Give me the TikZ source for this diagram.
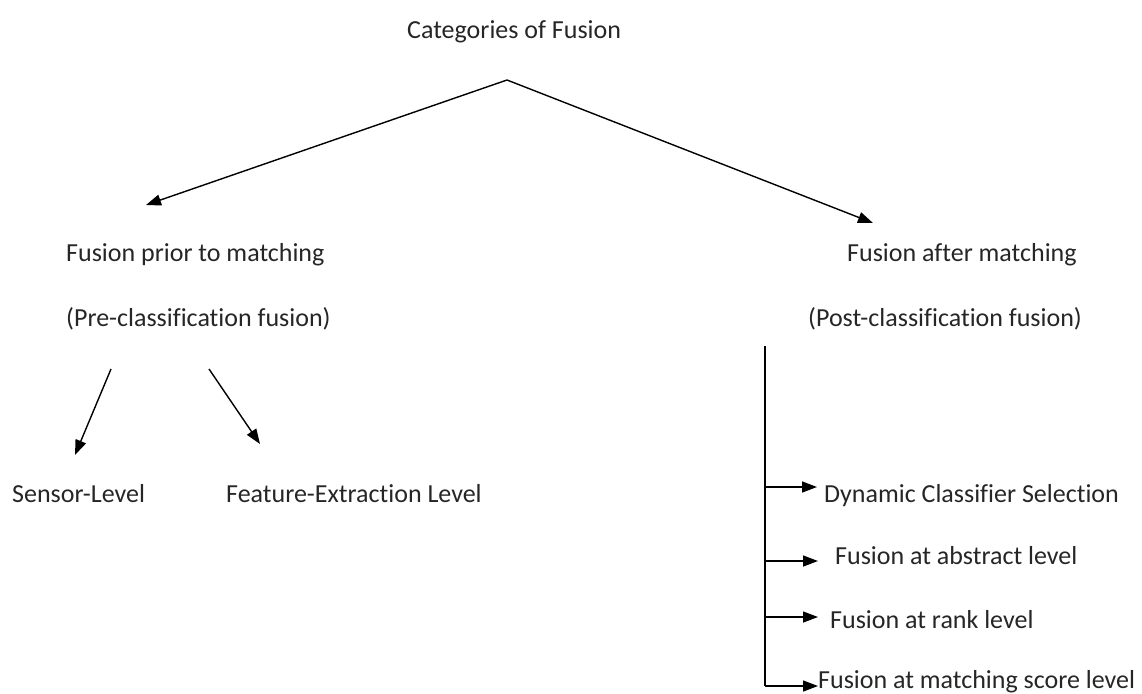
\documentclass[tikz,border=0pt]{standalone}
\usepackage{fontspec}
\setmainfont{Carlito}[Ligatures=CommonOff]
\usetikzlibrary{arrows.meta}
\tikzset{
  lbl/.style={anchor=base west, inner sep=0pt, font=\fontsize{26}{31}\selectfont, text=black!85},
  conn/.style={draw=black, line width=1.4pt, -{Triangle[length=15pt,width=11pt]}},
  plain/.style={draw=black, line width=1.4pt},
}
\begin{document}
\begin{tikzpicture}[x=1pt,y=-1pt]
\useasboundingbox (0,0) rectangle (1142,693);
% texts
\node[lbl] (cat) at (407,38) {Categories of Fusion};
\node[lbl] (prior) at (66,261) {Fusion prior to matching};
\node[lbl] (pre) at (66,326) {(Pre-classification fusion)};
\node[lbl] (after) at (847,261) {Fusion after matching};
\node[lbl] (post) at (808,326) {(Post-classification fusion)};
\node[lbl] (sensor) at (12,502) {Sensor-Level};
\node[lbl] (feat) at (226,502) {Feature-Extraction Level};
\node[lbl] (dyn) at (824,502) {Dynamic Classifier Selection};
\node[lbl] (abs) at (835,564) {Fusion at abstract level};
\node[lbl] (rank) at (830,628) {Fusion at rank level};
\node[lbl] (score) at (818,688) {Fusion at matching score level};
% coordinates
\coordinate (apex) at (507,80);
\coordinate (ltip) at (146,205);
\coordinate (rtip) at (873,223);
\coordinate (s1) at (111,369);
\coordinate (s1t) at (75,455);
\coordinate (s2) at (209,369);
\coordinate (s2t) at (260,444);
\coordinate (vtop) at (765,346);
\coordinate (vbot) at (765,686);
\coordinate (b1) at (765,487);
\coordinate (b2) at (765,561);
\coordinate (b3) at (765,617);
\coordinate (t1) at (817,487);
\coordinate (t2) at (818,561);
\coordinate (t3) at (818,617);
\coordinate (t4) at (818,686);
% connectors
\draw[conn] (apex) -- (ltip);
\draw[conn] (apex) -- (rtip);
\draw[conn] (s1) -- (s1t);
\draw[conn] (s2) -- (s2t);
\draw[plain] (vtop) -- (vbot);
\draw[conn] (b1) -- (t1);
\draw[conn] (b2) -- (t2);
\draw[conn] (b3) -- (t3);
\draw[conn] (vbot) -- (t4);
\end{tikzpicture}
\end{document}
